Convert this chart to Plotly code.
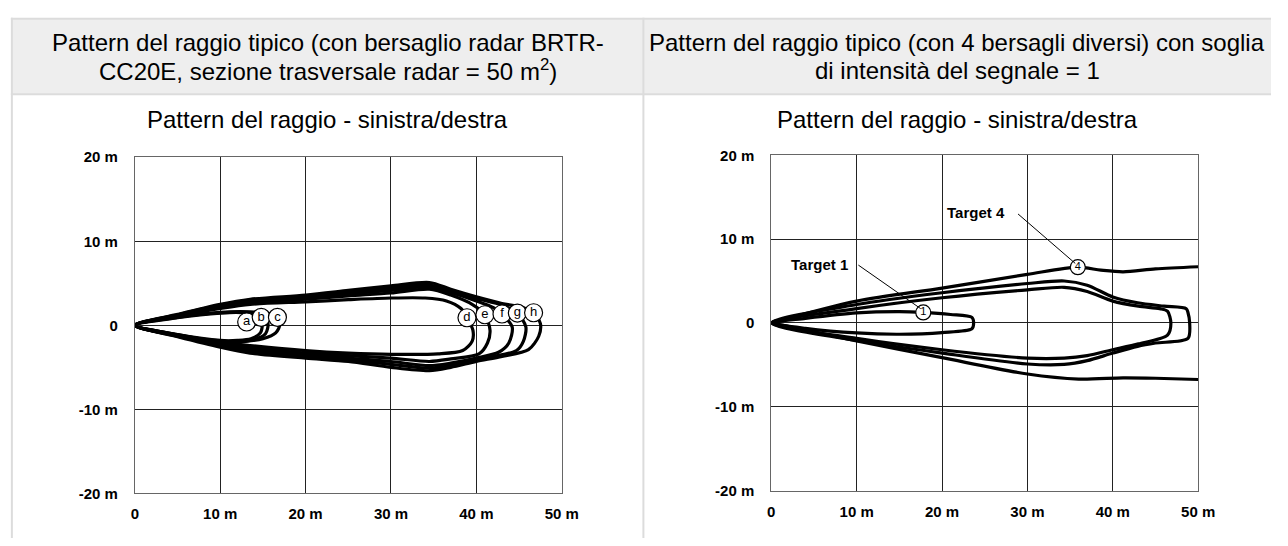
import plotly.graph_objects as go

W, H = 1288, 546

# ---- text ----
HEADER_LEFT = ["Pattern del raggio tipico (con bersaglio radar BRTR-",
               "CC20E, sezione trasversale radar = 50 m<sup>2</sup>)"]
HEADER_RIGHT = ["Pattern del raggio tipico (con 4 bersagli diversi) con soglia",
                "di intensità del segnale = 1"]
SUBTITLE = "Pattern del raggio - sinistra/destra"

X_TICKS = [0, 10, 20, 30, 40, 50]
X_TICK_TEXT = ["0", "10 m", "20 m", "30 m", "40 m", "50 m"]
Y_TICKS = [20, 10, 0, -10, -20]
Y_TICK_TEXT = ["20 m", "10 m", "0", "-10 m", "-20 m"]

# ---- left chart: beam pattern per radar target (a..h) ----
A_X = [0, 5, 10, 12.5, 14.2, 14.9, 14.7, 13.6, 12, 10, 5, 0]
A_Y = [0, 0.9, 1.45, 1.5, 1.1, 0.1, -0.9, -1.6, -1.8, -1.8, -1.1, 0]
B_X = [0, 5, 10, 13, 15.0, 15.6, 15.3, 14.0, 12, 10, 5, 0]
B_Y = [0, 0.95, 1.5, 1.55, 1.2, 0.2, -1.0, -1.7, -1.9, -1.85, -1.15, 0]
C_X = [0, 5, 10, 13.5, 16.2, 17.0, 16.5, 15, 13, 10, 5, 0]
C_Y = [0, 1.0, 1.55, 1.6, 1.3, 0.2, -0.9, -1.6, -1.9, -1.95, -1.2, 0]

D_X = [0, 5, 10, 13.5, 20, 25, 30, 34, 36.5, 38.2, 38.9, 39.6, 39.5, 38.4,
       35.5, 30, 25, 20, 13.5, 10, 5, 0]
D_Y = [0, 1.1, 2.0, 2.5, 2.8, 3.05, 3.25, 3.25, 2.9, 2.0, 0.9, -0.6, -1.9, -3.0,
       -3.4, -3.45, -3.3, -3.0, -2.4, -2.0, -1.1, 0]
E_X = [0, 5, 10, 13.5, 20, 25, 30, 34.5, 37, 39.5, 41.0, 41.6, 41.3, 40.3,
       37, 34.5, 30, 25, 20, 13.5, 10, 5, 0]
E_Y = [0, 1.15, 2.15, 2.7, 3.1, 3.5, 3.85, 4.3, 3.6, 2.5, 1.26, -0.6, -2.1, -3.4,
       -4.0, -4.3, -3.9, -3.6, -3.3, -2.65, -2.15, -1.2, 0]
F_X = [0, 5, 10, 13.5, 20, 25, 30, 34.5, 37, 40, 42, 43.0, 44.2, 43.8, 42.6,
       40, 37, 34.5, 30, 25, 20, 13.5, 10, 5, 0]
F_Y = [0, 1.2, 2.3, 2.85, 3.3, 3.75, 4.15, 4.6, 3.9, 2.9, 2.1, 1.35, -0.2, -2.1, -3.2,
       -3.9, -4.5, -4.8, -4.3, -3.9, -3.5, -2.9, -2.3, -1.25, 0]
G_X = [0, 5, 10, 13.5, 20, 25, 30, 34.5, 37, 40, 43, 44.8, 45.8, 45.5, 44.7,
       42, 40, 37, 34.5, 30, 25, 20, 13.5, 10, 5, 0]
G_Y = [0, 1.25, 2.4, 3.0, 3.45, 3.95, 4.45, 4.8, 4.1, 3.2, 2.4, 1.46, -0.2, -1.9, -3.0,
       -3.7, -4.1, -4.8, -5.1, -4.65, -4.1, -3.7, -3.1, -2.45, -1.3, 0]
H_X = [0, 5, 10, 13.5, 20, 25, 30, 34.5, 37, 40, 43, 45.5, 46.7, 47.5, 47.3,
       46.1, 43, 40, 37, 34.5, 30, 25, 20, 13.5, 10, 5, 0]
H_Y = [0, 1.3, 2.5, 3.1, 3.6, 4.15, 4.7, 5.1, 4.3, 3.4, 2.6, 2.1, 1.5, 0.2, -1.3,
       -2.9, -3.7, -4.3, -5.0, -5.4, -5.0, -4.3, -3.9, -3.3, -2.6, -1.35, 0]

LEFT_LABELS = ["a", "b", "c", "d", "e", "f", "g", "h"]
LEFT_LABEL_X = [13.1, 14.8, 16.7, 38.9, 41.0, 43.0, 44.8, 46.7]
LEFT_LABEL_Y = [0.4, 0.95, 0.95, 0.9, 1.26, 1.35, 1.46, 1.5]

# ---- right chart: beam pattern for 4 targets ----
T1_X = [0, 4, 10, 15, 17.8, 21, 23.5, 23.7, 23.5, 20, 15, 10, 4, 0]
T1_Y = [0, 0.55, 1.2, 1.35, 1.25, 1.0, 0.66, 0, -0.7, -1.15, -1.35, -1.2, -0.65, 0]
T2_X = [0, 10, 20, 30, 34.3, 37, 40, 43, 45.5, 46.4, 46.8, 46.4, 43, 40, 37, 34.3,
        30, 20, 10, 0]
T2_Y = [0, 1.7, 3.0, 3.95, 4.25, 3.75, 2.6, 2.0, 1.7, 1.4, 0, -1.45, -2.5, -3.2,
        -3.9, -4.2, -4.2, -3.2, -1.85, 0]
T3_X = [0, 10, 20, 30, 34.3, 37, 40, 42.9, 46, 48.6, 48.8, 49.0, 48.8, 45, 42.9,
        40, 37, 34.3, 30, 20, 10, 0]
T3_Y = [0, 2.2, 3.6, 4.7, 5.0, 4.5, 3.1, 2.4, 2.0, 1.7, 1.24, 0, -1.85, -2.4, -2.8,
        -3.6, -4.5, -4.95, -4.9, -3.6, -2.1, 0]
T4_UPPER_X = [0, 10, 20, 30, 35.9, 38.6, 41.2, 45, 50]
T4_UPPER_Y = [0, 2.6, 4.15, 5.8, 6.65, 6.3, 6.1, 6.45, 6.7]
T4_LOWER_X = [0, 10, 20, 30, 36, 41.2, 45, 50]
T4_LOWER_Y = [0, -2.15, -4.15, -6.1, -6.7, -6.55, -6.6, -6.75]

RIGHT_LABELS = ["1", "4"]
RIGHT_LABEL_X = [17.8, 35.9]
RIGHT_LABEL_Y = [1.25, 6.65]

TARGET_NAMES = ["Target 1", "Target 4"]
TARGET_TEXT_X = [5.6, 24.0]
TARGET_TEXT_Y = [7.0, 13.2]


def px_x(p):
    return p / W


def px_y(p):
    return 1 - p / H


FONT = "Liberation Sans, Arial, sans-serif"
BORDER = "#dcdcdc"

fig = go.Figure()


def curve(xs, ys, xa, ya):
    fig.add_trace(go.Scatter(
        x=xs, y=ys, xaxis=xa, yaxis=ya, mode="lines",
        line=dict(color="#000000", width=3.2, shape="spline", smoothing=0.8),
        hoverinfo="skip", showlegend=False))


for xs, ys in [(A_X, A_Y), (B_X, B_Y), (C_X, C_Y), (D_X, D_Y), (E_X, E_Y),
               (F_X, F_Y), (G_X, G_Y), (H_X, H_Y)]:
    curve(xs, ys, "x", "y")

for xs, ys in [(T1_X, T1_Y), (T2_X, T2_Y), (T3_X, T3_Y),
               (T4_UPPER_X, T4_UPPER_Y), (T4_LOWER_X, T4_LOWER_Y)]:
    curve(xs, ys, "x2", "y2")

# leader lines from target names to their circled markers
leaders = [((10.2, 6.9), (17.5, 1.7)), ((28.9, 13.0), (35.6, 7.1))]
for (x0, y0), (x1, y1) in leaders:
    fig.add_shape(type="line", xref="x2", yref="y2", x0=x0, y0=y0, x1=x1, y1=y1,
                  line=dict(color="#000000", width=1))

# circled curve labels
fig.add_trace(go.Scatter(
    x=LEFT_LABEL_X, y=LEFT_LABEL_Y, xaxis="x", yaxis="y", mode="markers+text",
    text=LEFT_LABELS, textposition="middle center",
    textfont=dict(family=FONT, size=13, color="#000000"),
    marker=dict(size=18, color="#ffffff", line=dict(color="#000000", width=1.2)),
    hoverinfo="skip", showlegend=False))
fig.add_trace(go.Scatter(
    x=RIGHT_LABEL_X, y=RIGHT_LABEL_Y, xaxis="x2", yaxis="y2", mode="markers+text",
    text=RIGHT_LABELS, textposition="middle center",
    textfont=dict(family=FONT, size=11, color="#000000"),
    marker=dict(size=15, color="#ffffff", line=dict(color="#000000", width=1.2)),
    hoverinfo="skip", showlegend=False))

for name, tx, ty in zip(TARGET_NAMES, TARGET_TEXT_X, TARGET_TEXT_Y):
    fig.add_annotation(x=tx, y=ty, xref="x2", yref="y2", text=name,
                       showarrow=False,
                       font=dict(family=FONT, size=15, color="#000000", weight="bold"))

# table frame: header band, borders, column divider
shapes = [
    dict(type="rect", xref="paper", yref="paper", x0=px_x(8), x1=1.0,
         y0=px_y(88), y1=px_y(10), fillcolor="#eeeeee", line=dict(width=0), layer="below"),
    dict(type="line", xref="paper", yref="paper", x0=px_x(7), x1=1.0,
         y0=px_y(10), y1=px_y(10), line=dict(color=BORDER, width=2)),
    dict(type="line", xref="paper", yref="paper", x0=px_x(7), x1=1.0,
         y0=px_y(88), y1=px_y(88), line=dict(color=BORDER, width=2)),
    dict(type="line", xref="paper", yref="paper", x0=px_x(8), x1=px_x(8),
         y0=0, y1=px_y(9), line=dict(color=BORDER, width=2)),
    dict(type="line", xref="paper", yref="paper", x0=px_x(650), x1=px_x(650),
         y0=0, y1=px_y(9), line=dict(color=BORDER, width=2)),
]
for s in shapes:
    fig.add_shape(**s)


def header(lines, cx):
    for i, t in enumerate(lines):
        fig.add_annotation(x=px_x(cx), y=px_y(35 + 28 * i), xref="paper", yref="paper",
                           text=t, showarrow=False, xanchor="center", yanchor="middle",
                           font=dict(family=FONT, size=24, color="#000000"))


header(HEADER_LEFT, 329)
header(HEADER_RIGHT, 969)
for cx in (329, 969):
    fig.add_annotation(x=px_x(cx), y=px_y(114), xref="paper", yref="paper",
                       text=SUBTITLE, showarrow=False, xanchor="center", yanchor="middle",
                       font=dict(family=FONT, size=24, color="#000000"))

tickfont = dict(family=FONT, size=15, color="#000000", weight="bold")
xcommon = dict(range=[0, 50], tickvals=X_TICKS, ticktext=X_TICK_TEXT, ticks="",
               showgrid=True, gridcolor="#222222", gridwidth=1, zeroline=False,
               showline=True, linecolor="#666666", linewidth=1, mirror=True,
               tickfont=tickfont, ticklabelstandoff=7, fixedrange=True)
ycommon = dict(range=[-20, 20], tickvals=Y_TICKS, ticktext=Y_TICK_TEXT, ticks="",
               showgrid=True, gridcolor="#222222", gridwidth=1, zeroline=False,
               showline=True, linecolor="#666666", linewidth=1, mirror=True,
               tickfont=tickfont, ticklabelstandoff=13, fixedrange=True)

fig.update_layout(
    width=W, height=H,
    margin=dict(l=0, r=0, t=0, b=0),
    paper_bgcolor="#ffffff", plot_bgcolor="#ffffff",
    showlegend=False,
    xaxis=dict(domain=[px_x(133), px_x(567)], anchor="y", **xcommon),
    yaxis=dict(domain=[px_y(500), px_y(153)], anchor="x", **ycommon),
    xaxis2=dict(domain=[px_x(780), px_x(1214)], anchor="y2", **xcommon),
    yaxis2=dict(domain=[px_y(497), px_y(151)], anchor="x2", **ycommon),
)

fig.write_html("out.html")
